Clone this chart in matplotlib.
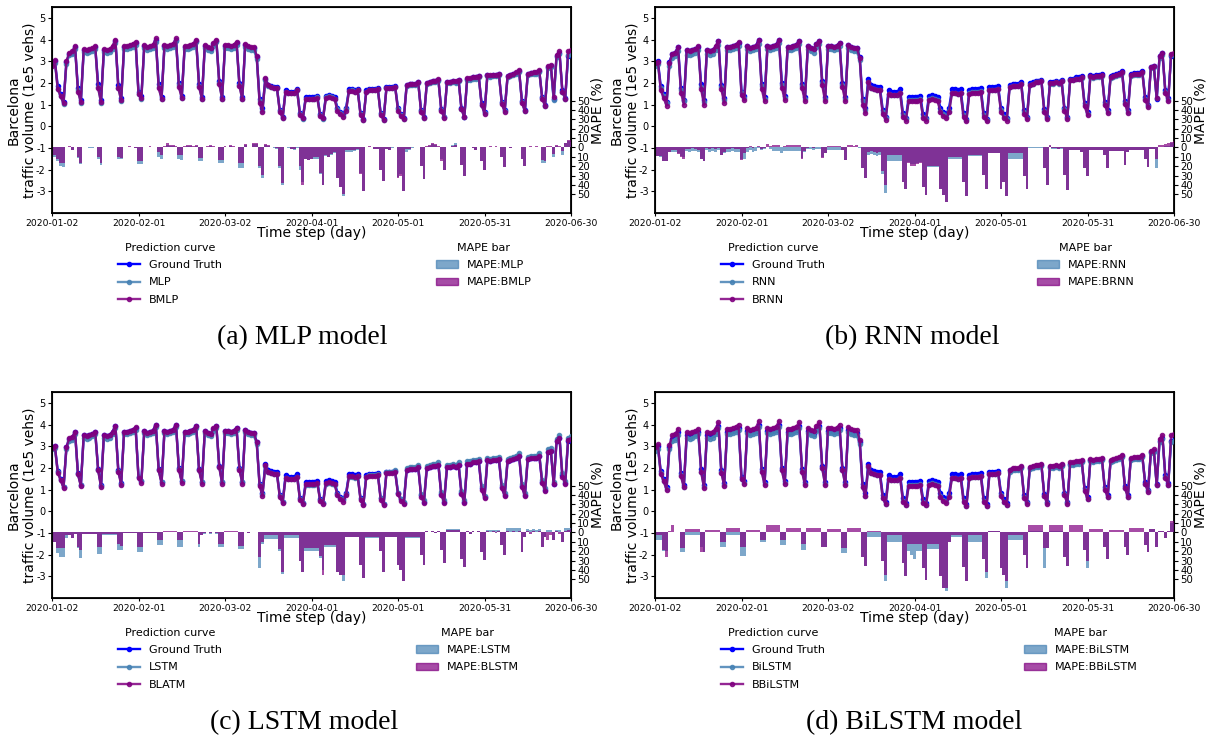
import matplotlib
matplotlib.use('Agg')
import matplotlib.pyplot as plt
import matplotlib.dates as mdates
from matplotlib.lines import Line2D
from matplotlib.patches import Patch
import pandas as pd

plt.rcParams['font.family'] = ['DejaVu Sans']
plt.rcParams['axes.unicode_minus'] = False

DATES = pd.date_range('2020-01-02', '2020-06-30', freq='D')
TICK_DATES = ['2020-01-02', '2020-02-01', '2020-03-02', '2020-04-01',
              '2020-05-01', '2020-05-31', '2020-06-30']
YTICKS = [-3, -2, -1, 0, 1, 2, 3, 4, 5]
MAPE_TICKS = [-50, -40, -30, -20, -10, 0, 10, 20, 30, 40, 50]

GROUND_TRUTH = [
    2.95, 3.00, 1.85, 1.50,
    1.12, 2.95, 3.35, 3.40, 3.65, 1.75, 1.22,
    3.50, 3.45, 3.50, 3.55, 3.65, 1.95, 1.20,
    3.50, 3.45, 3.50, 3.65, 3.95, 1.90, 1.30,
    3.65, 3.65, 3.70, 3.75, 3.85, 1.60, 1.40,
    3.70, 3.60, 3.65, 3.70, 4.00, 1.95, 1.35,
    3.70, 3.65, 3.70, 3.75, 4.00, 2.00, 1.40,
    3.65, 3.65, 3.70, 3.75, 3.95, 1.95, 1.35,
    3.70, 3.60, 3.55, 3.80, 3.95, 2.10, 1.35,
    3.70, 3.70, 3.65, 3.70, 3.85, 2.00, 1.35,
    3.75, 3.65, 3.60, 3.60, 3.20, 1.25, 0.85,
    2.20, 1.90, 1.85, 1.80, 1.80, 0.75, 0.45,
    1.65, 1.60, 1.60, 1.60, 1.70, 0.60, 0.40,
    1.35, 1.35, 1.35, 1.35, 1.40, 0.55, 0.40,
    1.40, 1.45, 1.40, 1.35, 0.85, 0.65, 0.55,
    0.85, 1.70, 1.70, 1.65, 1.70, 0.60, 0.35,
    1.65, 1.70, 1.70, 1.70, 1.75, 0.60, 0.35,
    1.80, 1.80, 1.80, 1.85, 0.85, 0.55, 0.40,
    1.90, 1.95, 1.95, 1.95, 2.05, 0.75, 0.45,
    2.00, 2.05, 2.10, 2.10, 2.15, 0.80, 0.45,
    2.05, 2.05, 2.10, 2.05, 2.15, 0.85, 0.45,
    2.20, 2.20, 2.25, 2.25, 2.30, 1.05, 0.65,
    2.35, 2.30, 2.35, 2.35, 2.40, 1.10, 0.75,
    2.30, 2.35, 2.40, 2.45, 2.55, 1.15, 0.75,
    2.40, 2.45, 2.45, 2.45, 2.55, 1.35, 1.00,
    2.75, 2.80, 1.25, 3.25, 3.40, 1.65, 1.30,
    3.25, 3.30]

# ---------------- (a) MLP ----------------
PRED_MLP = [
    2.85, 2.92, 1.72, 1.38,
    1.02, 2.88, 3.28, 3.33, 3.55, 1.65, 1.08,
    3.42, 3.38, 3.42, 3.47, 3.57, 1.80, 1.08,
    3.42, 3.37, 3.42, 3.57, 3.85, 1.78, 1.18,
    3.57, 3.57, 3.62, 3.67, 3.77, 1.50, 1.28,
    3.62, 3.52, 3.57, 3.62, 3.90, 1.82, 1.25,
    3.62, 3.57, 3.62, 3.67, 3.92, 1.88, 1.30,
    3.57, 3.57, 3.62, 3.67, 3.87, 1.85, 1.25,
    3.62, 3.52, 3.47, 3.72, 3.87, 1.98, 1.25,
    3.62, 3.62, 3.57, 3.62, 3.77, 1.88, 1.25,
    3.67, 3.57, 3.52, 3.52, 3.12, 1.15, 0.72,
    2.15, 1.85, 1.80, 1.75, 1.75, 0.70, 0.40,
    1.60, 1.55, 1.55, 1.55, 1.65, 0.55, 0.35,
    1.28, 1.28, 1.28, 1.28, 1.33, 0.50, 0.35,
    1.33, 1.38, 1.33, 1.28, 0.78, 0.60, 0.48,
    0.78, 1.63, 1.65, 1.60, 1.65, 0.55, 0.30,
    1.60, 1.65, 1.65, 1.65, 1.70, 0.55, 0.30,
    1.75, 1.75, 1.75, 1.80, 0.78, 0.50, 0.35,
    1.85, 1.90, 1.90, 1.90, 2.00, 0.70, 0.40,
    1.95, 2.00, 2.05, 2.05, 2.10, 0.75, 0.42,
    2.00, 2.00, 2.05, 2.00, 2.10, 0.80, 0.42,
    2.15, 2.15, 2.20, 2.20, 2.25, 1.00, 0.60,
    2.30, 2.25, 2.30, 2.30, 2.35, 1.05, 0.70,
    2.25, 2.30, 2.35, 2.40, 2.50, 1.10, 0.70,
    2.35, 2.40, 2.40, 2.40, 2.50, 1.30, 0.95,
    2.70, 2.75, 1.20, 3.20, 3.35, 1.60, 1.25,
    3.30, 3.35]
PRED_BMLP = [
    2.80, 3.05, 1.70, 1.40,
    1.05, 3.00, 3.40, 3.45, 3.70, 1.60, 1.12,
    3.55, 3.50, 3.55, 3.60, 3.70, 1.75, 1.12,
    3.55, 3.50, 3.55, 3.70, 4.00, 1.75, 1.20,
    3.70, 3.70, 3.75, 3.80, 3.90, 1.50, 1.30,
    3.75, 3.65, 3.70, 3.75, 4.05, 1.75, 1.28,
    3.75, 3.70, 3.75, 3.80, 4.05, 1.80, 1.32,
    3.70, 3.70, 3.75, 3.80, 4.00, 1.80, 1.28,
    3.75, 3.65, 3.60, 3.85, 4.00, 1.95, 1.28,
    3.75, 3.75, 3.70, 3.75, 3.90, 1.85, 1.25,
    3.80, 3.70, 3.65, 3.65, 3.25, 1.05, 0.68,
    2.22, 1.88, 1.82, 1.78, 1.78, 0.68, 0.38,
    1.60, 1.55, 1.55, 1.55, 1.65, 0.52, 0.36,
    1.25, 1.25, 1.25, 1.27, 1.30, 0.48, 0.36,
    1.30, 1.33, 1.30, 1.25, 0.70, 0.55, 0.45,
    0.72, 1.62, 1.62, 1.58, 1.65, 0.52, 0.30,
    1.60, 1.65, 1.65, 1.65, 1.72, 0.52, 0.30,
    1.75, 1.75, 1.77, 1.82, 0.72, 0.48, 0.32,
    1.88, 1.93, 1.93, 1.95, 2.05, 0.65, 0.40,
    2.00, 2.05, 2.10, 2.10, 2.18, 0.72, 0.40,
    2.05, 2.05, 2.10, 2.08, 2.15, 0.78, 0.42,
    2.22, 2.22, 2.27, 2.28, 2.32, 0.98, 0.58,
    2.38, 2.35, 2.38, 2.38, 2.42, 1.02, 0.68,
    2.33, 2.38, 2.42, 2.48, 2.58, 1.08, 0.70,
    2.42, 2.47, 2.48, 2.48, 2.58, 1.25, 0.95,
    2.78, 2.82, 1.35, 3.30, 3.45, 1.60, 1.28,
    3.45, 3.50]
MAPE_MLP = [
    -4, -10, -14, -20,
    -21, 1, 1, -3, 1, -11, -18,
    0, 0, -1, -1, 0, -12, -19,
    0, 0, 0, 0, 0, -12, -12,
    1, 1, 1, 0, -1, -18, -18,
    0, 0, 1, 0, 0, -10, -12,
    1, 3, 2, 2, 1, -12, -13,
    1, 2, 2, 1, 2, -14, -14,
    0, 1, 2, 1, 0, -17, -17,
    1, 0, 2, 1, 0, -22, -22,
    3, 0, 0, 4, 4, -22, -33,
    3, 2, 0, -1, -2, -22, -40,
    0, -1, -2, -3, -1, -24, -37,
    -12, -13, -12, -12, -12, -28, -40,
    -9, -10, -8, -6, -33, -42, -52,
    -5, -5, -5, -4, -3, -27, -46,
    1, 1, 0, -2, -2, -24, -36,
    -2, -3, -1, 0, -32, -28, -47,
    -5, -3, -1, 0, 0, -20, -34,
    1, 2, 4, 3, 1, -12, -24,
    1, 0, 3, 5, 0, -19, -31,
    1, 0, -1, -3, 1, -15, -24,
    1, 1, 1, 1, 1, -10, -21,
    0, -1, 0, 0, 1, -12, -20,
    1, 1, 1, 1, 1, -17, -17,
    1, 1, -10, 2, 1, -8, 5,
    7, 6]
MAPE_BMLP = [
    -2, -8, -12, -17,
    -17, 1, 2, -3, 1, -10, -17,
    1, 1, 0, 0, 1, -10, -17,
    0, 0, 1, 0, 0, -10, -11,
    1, 1, 2, 0, -1, -15, -15,
    1, 1, 2, 1, 1, -5, -8,
    2, 5, 3, 3, 2, -8, -8,
    2, 3, 3, 2, 3, -11, -11,
    1, 2, 3, 2, 1, -13, -13,
    2, 1, 3, 2, 1, -17, -17,
    4, 1, 1, 5, 5, -20, -29,
    4, 3, 0, 0, -1, -20, -38,
    1, 0, -2, -2, 0, -20, -40,
    -12, -13, -12, -10, -10, -27, -40,
    -8, -10, -7, -5, -33, -42, -50,
    -3, -3, -3, -3, -2, -28, -46,
    1, 2, 0, -2, -2, -24, -36,
    -2, -3, 0, 0, -33, -30, -47,
    -2, -2, 0, 0, 0, -20, -34,
    2, 3, 5, 4, 2, -14, -24,
    1, 0, 2, 3, 0, -19, -31,
    1, 0, -1, -3, 1, -14, -24,
    1, 2, 1, 2, 1, -10, -21,
    1, -1, 1, 0, 1, -12, -20,
    1, 2, 1, 2, 1, -13, -15,
    2, 2, -7, 3, 2, -4, 5,
    8, 8]

# ---------------- (b) RNN ----------------
PRED_RNN = [
    2.80, 2.85, 1.75, 1.40,
    1.05, 2.80, 3.15, 3.25, 3.45, 1.65, 1.15,
    3.30, 3.30, 3.35, 3.40, 3.50, 1.80, 1.12,
    3.35, 3.30, 3.35, 3.50, 3.75, 1.80, 1.22,
    3.50, 3.50, 3.55, 3.60, 3.70, 1.55, 1.32,
    3.55, 3.45, 3.50, 3.55, 3.80, 1.85, 1.28,
    3.55, 3.50, 3.55, 3.60, 3.85, 1.90, 1.32,
    3.50, 3.50, 3.55, 3.60, 3.80, 1.85, 1.28,
    3.55, 3.45, 3.40, 3.65, 3.80, 2.00, 1.28,
    3.55, 3.55, 3.50, 3.55, 3.70, 1.90, 1.28,
    3.60, 3.50, 3.45, 3.45, 3.05, 1.15, 0.75,
    2.05, 1.75, 1.70, 1.65, 1.65, 0.65, 0.38,
    1.50, 1.45, 1.45, 1.45, 1.55, 0.50, 0.32,
    1.20, 1.20, 1.20, 1.20, 1.25, 0.45, 0.32,
    1.25, 1.30, 1.25, 1.20, 0.72, 0.55, 0.45,
    0.72, 1.55, 1.55, 1.50, 1.55, 0.50, 0.28,
    1.52, 1.57, 1.57, 1.57, 1.62, 0.50, 0.28,
    1.68, 1.68, 1.68, 1.73, 0.75, 0.45, 0.32,
    1.80, 1.85, 1.85, 1.85, 1.95, 0.65, 0.38,
    1.92, 1.97, 2.02, 2.02, 2.07, 0.72, 0.40,
    1.97, 1.97, 2.02, 1.97, 2.07, 0.78, 0.40,
    2.12, 2.12, 2.17, 2.17, 2.22, 0.98, 0.58,
    2.27, 2.22, 2.27, 2.27, 2.32, 1.02, 0.68,
    2.22, 2.27, 2.32, 2.37, 2.47, 1.08, 0.68,
    2.32, 2.37, 2.37, 2.37, 2.47, 1.28, 0.92,
    2.67, 2.72, 1.30, 3.15, 3.30, 1.58, 1.22,
    3.30, 3.35]
PRED_BRNN = [
    2.90, 2.98, 1.65, 1.30,
    0.95, 2.90, 3.35, 3.40, 3.65, 1.55, 1.00,
    3.50, 3.45, 3.50, 3.55, 3.68, 1.70, 0.98,
    3.50, 3.45, 3.50, 3.68, 3.95, 1.70, 1.08,
    3.65, 3.65, 3.70, 3.75, 3.88, 1.42, 1.20,
    3.70, 3.60, 3.65, 3.70, 4.00, 1.72, 1.15,
    3.70, 3.65, 3.70, 3.75, 4.00, 1.78, 1.20,
    3.65, 3.65, 3.70, 3.75, 3.95, 1.75, 1.15,
    3.70, 3.60, 3.55, 3.80, 3.95, 1.88, 1.15,
    3.70, 3.70, 3.65, 3.70, 3.85, 1.80, 1.15,
    3.75, 3.65, 3.60, 3.60, 3.15, 1.00, 0.60,
    2.05, 1.75, 1.70, 1.65, 1.65, 0.55, 0.30,
    1.50, 1.45, 1.45, 1.45, 1.52, 0.42, 0.25,
    1.18, 1.18, 1.18, 1.18, 1.22, 0.40, 0.25,
    1.22, 1.25, 1.22, 1.18, 0.65, 0.48, 0.38,
    0.65, 1.52, 1.52, 1.48, 1.52, 0.42, 0.22,
    1.50, 1.55, 1.55, 1.55, 1.60, 0.42, 0.22,
    1.65, 1.65, 1.65, 1.70, 0.68, 0.40, 0.25,
    1.80, 1.85, 1.85, 1.85, 1.95, 0.58, 0.32,
    1.92, 1.97, 2.02, 2.02, 2.08, 0.65, 0.32,
    1.98, 1.98, 2.03, 1.98, 2.08, 0.70, 0.35,
    2.15, 2.15, 2.20, 2.20, 2.25, 0.92, 0.52,
    2.30, 2.25, 2.30, 2.30, 2.35, 0.98, 0.62,
    2.25, 2.30, 2.35, 2.40, 2.50, 1.02, 0.62,
    2.35, 2.40, 2.40, 2.40, 2.50, 1.22, 0.88,
    2.72, 2.78, 1.30, 3.25, 3.40, 1.52, 1.15,
    3.35, 3.40]
MAPE_RNN = [
    -5, -9, -10, -15,
    -14, -5, -5, -5, -6, -9, -10,
    -4, -5, -4, -4, -5, -12, -14,
    -3, -5, -4, -5, -3, -8, -6,
    -5, -5, -4, -5, -5, -12, -12,
    -5, -3, -5, -4, -1, -3, -2,
    1, -2, -4, -4, -4, -6, -4,
    -4, -4, -4, -4, -4, -11, -5,
    -2, -2, -3, -2, -2, -10, -6,
    -3, -3, -3, -3, -3, -3, -13,
    1, 1, 0, 1, -1, -22, -33,
    -8, -7, -8, -9, -8, -28, -49,
    -14, -14, -14, -14, -14, -37, -44,
    -16, -18, -18, -17, -16, -42, -51,
    -21, -21, -21, -21, -44, -51, -58,
    -12, -12, -12, -12, -12, -37, -52,
    -9, -9, -9, -9, -9, -29, -44,
    -6, -6, -6, -6, -44, -37, -52,
    -12, -12, -12, -12, -12, -31, -44,
    -1, -1, -1, -1, -1, -22, -40,
    2, -2, -2, -2, -2, -29, -45,
    -3, -3, -3, -3, -5, -22, -31,
    -3, -3, -3, -3, -3, -8, -22,
    -4, -4, -4, -4, -4, -19, -5,
    -3, -3, -3, -3, -3, -12, -21,
    -2, -2, -22, 1, 1, 2, 2,
    5, 5]
MAPE_BRNN = [
    -3, -9, -9, -15,
    -15, -5, -3, -3, -7, -10, -12,
    -2, -2, -1, -2, -3, -12, -15,
    -1, -2, -1, -2, -1, -8, -5,
    -2, -2, -1, -2, -2, -13, -6,
    -1, 2, -1, 1, 2, -2, -1,
    4, 2, 3, 3, 3, 1, 2,
    3, 3, 3, 3, 3, -12, -4,
    -1, 1, -1, 1, 0, -11, -6,
    2, 2, 2, 2, 2, -3, -13,
    3, 3, 2, 3, 1, -22, -33,
    -5, -4, -5, -6, -5, -25, -40,
    -8, -8, -8, -8, -8, -37, -44,
    -17, -20, -20, -18, -17, -42, -51,
    -20, -20, -20, -20, -44, -51, -58,
    -10, -10, -10, -10, -10, -37, -52,
    -8, -8, -8, -8, -8, -29, -44,
    -6, -6, -6, -6, -44, -37, -52,
    -6, -6, -6, -6, -6, -31, -44,
    1, 1, 0, 1, 1, -22, -40,
    3, -1, -1, -2, -1, -29, -45,
    -3, -3, -3, -3, -5, -22, -31,
    -3, -3, -3, -3, -3, -8, -22,
    -4, -4, -4, -4, -4, -19, -5,
    -3, -3, -3, -3, -3, -12, -21,
    -2, -2, -12, 3, 3, 4, 5,
    6, 7]

# ---------------- (c) LSTM ----------------
PRED_LSTM = [
    2.85, 2.90, 1.80, 1.45,
    1.10, 2.85, 3.25, 3.30, 3.55, 1.72, 1.20,
    3.40, 3.35, 3.40, 3.45, 3.55, 1.90, 1.18,
    3.40, 3.35, 3.40, 3.55, 3.85, 1.85, 1.28,
    3.55, 3.55, 3.60, 3.65, 3.75, 1.58, 1.38,
    3.60, 3.50, 3.55, 3.60, 3.90, 1.90, 1.33,
    3.60, 3.55, 3.60, 3.65, 3.90, 1.95, 1.38,
    3.55, 3.55, 3.60, 3.65, 3.85, 1.92, 1.33,
    3.60, 3.50, 3.45, 3.70, 3.85, 2.05, 1.33,
    3.60, 3.60, 3.55, 3.60, 3.75, 1.95, 1.33,
    3.65, 3.55, 3.50, 3.50, 3.10, 1.20, 0.80,
    2.10, 1.80, 1.75, 1.70, 1.70, 0.72, 0.42,
    1.52, 1.48, 1.48, 1.48, 1.58, 0.55, 0.38,
    1.22, 1.22, 1.22, 1.22, 1.28, 0.52, 0.38,
    1.28, 1.32, 1.28, 1.22, 0.80, 0.62, 0.52,
    0.80, 1.60, 1.60, 1.55, 1.62, 0.58, 0.35,
    1.60, 1.65, 1.65, 1.65, 1.72, 0.60, 0.35,
    1.80, 1.82, 1.82, 1.88, 0.85, 0.58, 0.42,
    1.98, 2.03, 2.03, 2.03, 2.13, 0.80, 0.50,
    2.10, 2.15, 2.20, 2.20, 2.25, 0.88, 0.52,
    2.15, 2.15, 2.20, 2.15, 2.25, 0.95, 0.52,
    2.32, 2.32, 2.37, 2.37, 2.42, 1.15, 0.72,
    2.47, 2.42, 2.47, 2.47, 2.52, 1.20, 0.82,
    2.42, 2.47, 2.52, 2.57, 2.67, 1.25, 0.82,
    2.52, 2.57, 2.57, 2.57, 2.67, 1.45, 1.08,
    2.87, 2.92, 1.35, 3.35, 3.50, 1.75, 1.38,
    3.40, 3.45]
PRED_BLSTM = [
    2.90, 3.00, 1.78, 1.42,
    1.08, 2.95, 3.38, 3.42, 3.67, 1.70, 1.15,
    3.52, 3.47, 3.52, 3.57, 3.67, 1.88, 1.12,
    3.52, 3.47, 3.52, 3.67, 3.95, 1.82, 1.22,
    3.67, 3.67, 3.72, 3.77, 3.87, 1.52, 1.32,
    3.72, 3.62, 3.67, 3.72, 4.00, 1.88, 1.28,
    3.72, 3.67, 3.72, 3.77, 4.00, 1.92, 1.32,
    3.67, 3.67, 3.72, 3.77, 3.95, 1.88, 1.28,
    3.72, 3.62, 3.57, 3.82, 3.95, 2.02, 1.28,
    3.72, 3.72, 3.67, 3.72, 3.85, 1.92, 1.28,
    3.75, 3.65, 3.60, 3.60, 3.18, 1.15, 0.72,
    2.12, 1.82, 1.78, 1.72, 1.72, 0.65, 0.38,
    1.55, 1.50, 1.50, 1.50, 1.60, 0.52, 0.33,
    1.25, 1.25, 1.25, 1.25, 1.30, 0.48, 0.33,
    1.30, 1.35, 1.30, 1.25, 0.75, 0.55, 0.45,
    0.75, 1.62, 1.62, 1.58, 1.62, 0.52, 0.28,
    1.58, 1.63, 1.63, 1.63, 1.68, 0.52, 0.28,
    1.75, 1.75, 1.75, 1.80, 0.78, 0.48, 0.33,
    1.88, 1.93, 1.93, 1.93, 2.03, 0.68, 0.40,
    2.00, 2.05, 2.10, 2.10, 2.15, 0.75, 0.40,
    2.05, 2.05, 2.10, 2.05, 2.15, 0.80, 0.40,
    2.20, 2.20, 2.25, 2.25, 2.30, 1.00, 0.60,
    2.35, 2.30, 2.35, 2.35, 2.40, 1.05, 0.70,
    2.30, 2.35, 2.40, 2.45, 2.55, 1.10, 0.70,
    2.40, 2.45, 2.45, 2.45, 2.55, 1.30, 0.95,
    2.75, 2.80, 1.25, 3.25, 3.40, 1.60, 1.25,
    3.30, 3.35]
MAPE_LSTM = [
    -10, -10, -22, -26,
    -26, -6, -3, -6, -2, -17, -27,
    -2, -2, -2, -2, -2, -23, -23,
    -3, -3, -3, -3, -3, -19, -19,
    -1, -1, -1, -1, -1, -21, -21,
    -1, -1, -1, -1, -1, -13, -13,
    1, 1, 1, 1, 1, -16, -16,
    1, 1, 1, 1, 1, -16, -3,
    -2, 0, -2, 0, -2, -16, -16,
    0, 0, 0, 0, 0, -18, -18,
    1, -1, 1, 1, 1, -38, -12,
    -7, -7, -7, -7, -7, -20, -44,
    -6, -6, -6, -6, -6, -31, -42,
    -20, -20, -20, -20, -20, -27, -40,
    -16, -16, -16, -16, -42, -45, -52,
    -5, -5, -5, -5, -5, -35, -49,
    -6, -6, -6, -6, -6, -20, -42,
    -5, -5, -5, -5, -35, -40, -52,
    -6, -6, -6, -6, -6, -24, -35,
    2, 1, 2, -1, 2, -19, -33,
    4, 4, 4, 4, 4, -28, -37,
    2, -2, 2, 1, 2, -21, -29,
    3, 3, 3, 3, 3, -13, -24,
    5, 5, 5, 5, 5, -21, -5,
    4, 3, 4, 3, 4, -15, -5,
    3, 3, -8, 3, 3, -10, 5,
    5, 5]
MAPE_BLSTM = [
    -10, -10, -17, -17,
    -17, -3, -3, -6, -2, -15, -19,
    -2, -2, -2, -2, -2, -15, -15,
    -2, -2, -2, -2, -2, -12, -14,
    -1, -1, -1, -1, -1, -15, -15,
    -1, -1, -1, -1, -1, -8, -8,
    2, 2, 2, 2, 2, -8, -8,
    2, 2, 2, 2, 2, -12, -3,
    -1, 1, -1, 1, -1, -12, -12,
    2, 2, 2, 2, 2, -14, -14,
    1, -1, 1, 1, 1, -26, -10,
    -3, -3, -3, -3, -3, -18, -42,
    -3, -3, -3, -3, -3, -31, -42,
    -17, -17, -17, -17, -17, -25, -45,
    -13, -13, -13, -13, -42, -45, -45,
    -5, -5, -5, -5, -5, -35, -49,
    -5, -5, -5, -5, -5, -20, -42,
    -5, -5, -5, -5, -35, -40, -52,
    -5, -5, -5, -5, -5, -24, -35,
    2, 1, 2, -1, 2, -19, -33,
    3, 3, 3, 3, 3, -28, -37,
    2, -2, 2, 1, 2, -21, -29,
    2, 1, 2, -1, 2, -13, -24,
    2, 1, 2, 1, 2, -21, -5,
    2, -2, 2, 1, 2, -15, -5,
    -8, -3, -8, 2, -2, -10, 2,
    3, 4]

# ---------------- (d) BiLSTM ----------------
PRED_BILSTM = [
    2.80, 2.88, 1.75, 1.40,
    1.02, 2.85, 3.25, 3.30, 3.52, 1.65, 1.12,
    3.40, 3.35, 3.40, 3.45, 3.55, 1.82, 1.10,
    3.40, 3.35, 3.40, 3.55, 3.82, 1.80, 1.20,
    3.55, 3.55, 3.60, 3.65, 3.75, 1.50, 1.30,
    3.60, 3.50, 3.55, 3.60, 3.88, 1.85, 1.25,
    3.60, 3.55, 3.60, 3.65, 3.90, 1.90, 1.30,
    3.55, 3.55, 3.60, 3.65, 3.85, 1.85, 1.25,
    3.60, 3.50, 3.45, 3.70, 3.85, 1.98, 1.25,
    3.60, 3.60, 3.55, 3.60, 3.75, 1.90, 1.25,
    3.65, 3.55, 3.50, 3.50, 3.10, 1.12, 0.72,
    2.05, 1.75, 1.70, 1.65, 1.65, 0.62, 0.35,
    1.50, 1.45, 1.45, 1.45, 1.55, 0.48, 0.30,
    1.20, 1.20, 1.20, 1.20, 1.25, 0.45, 0.30,
    1.25, 1.30, 1.25, 1.20, 0.70, 0.52, 0.42,
    0.70, 1.55, 1.55, 1.50, 1.55, 0.48, 0.25,
    1.52, 1.57, 1.57, 1.57, 1.62, 0.48, 0.25,
    1.70, 1.70, 1.70, 1.75, 0.75, 0.45, 0.30,
    1.83, 1.88, 1.88, 1.88, 1.98, 0.65, 0.38,
    1.95, 2.00, 2.05, 2.05, 2.10, 0.72, 0.38,
    2.00, 2.00, 2.05, 2.00, 2.10, 0.78, 0.38,
    2.15, 2.15, 2.20, 2.20, 2.25, 0.98, 0.58,
    2.30, 2.25, 2.30, 2.30, 2.35, 1.02, 0.68,
    2.25, 2.30, 2.35, 2.40, 2.50, 1.08, 0.68,
    2.35, 2.40, 2.40, 2.40, 2.50, 1.28, 0.92,
    2.70, 2.75, 1.22, 3.20, 3.35, 1.58, 1.22,
    3.20, 3.25]
PRED_BBILSTM = [
    2.95, 3.10, 1.72, 1.38,
    1.00, 3.05, 3.50, 3.55, 3.80, 1.62, 1.10,
    3.65, 3.60, 3.65, 3.70, 3.80, 1.82, 1.08,
    3.65, 3.60, 3.65, 3.80, 4.10, 1.78, 1.18,
    3.80, 3.80, 3.85, 3.90, 4.00, 1.48, 1.28,
    3.85, 3.75, 3.80, 3.85, 4.15, 1.82, 1.22,
    3.85, 3.80, 3.85, 3.90, 4.15, 1.88, 1.28,
    3.80, 3.80, 3.85, 3.90, 4.10, 1.82, 1.22,
    3.85, 3.75, 3.70, 3.95, 4.10, 1.98, 1.22,
    3.85, 3.85, 3.80, 3.85, 4.00, 1.88, 1.22,
    3.90, 3.80, 3.75, 3.75, 3.30, 1.10, 0.70,
    2.10, 1.78, 1.72, 1.68, 1.68, 0.60, 0.32,
    1.50, 1.45, 1.45, 1.45, 1.55, 0.45, 0.28,
    1.18, 1.18, 1.18, 1.18, 1.22, 0.40, 0.28,
    1.22, 1.28, 1.22, 1.18, 0.65, 0.48, 0.38,
    0.65, 1.55, 1.55, 1.50, 1.55, 0.45, 0.22,
    1.52, 1.57, 1.57, 1.57, 1.62, 0.45, 0.22,
    1.72, 1.72, 1.72, 1.78, 0.70, 0.42, 0.28,
    1.92, 1.98, 1.98, 1.98, 2.08, 0.62, 0.35,
    2.05, 2.10, 2.15, 2.15, 2.20, 0.70, 0.35,
    2.10, 2.10, 2.15, 2.10, 2.20, 0.75, 0.35,
    2.25, 2.25, 2.30, 2.30, 2.35, 0.95, 0.55,
    2.40, 2.35, 2.40, 2.40, 2.45, 1.00, 0.65,
    2.35, 2.40, 2.45, 2.50, 2.60, 1.05, 0.65,
    2.45, 2.50, 2.50, 2.50, 2.60, 1.25, 0.90,
    2.80, 2.85, 1.20, 3.35, 3.50, 1.55, 1.20,
    3.50, 3.55]
MAPE_BILSTM = [
    -3, -8, -8, -20,
    -20, 1, 1, 0, 0, -21, -21,
    -3, -3, -3, -3, -3, -15, -21,
    0, 0, 0, 0, 0, -15, -15,
    -3, -3, -3, -3, -3, -25, -25,
    0, 0, 0, 0, 0, -10, -10,
    1, 1, 1, 1, 1, -13, -13,
    0, 0, 0, 0, 0, -19, -19,
    0, 0, 0, 0, 0, -16, -16,
    0, 0, 0, 0, 0, -22, -22,
    1, 1, 1, 1, 1, -26, -36,
    -5, -5, -5, -5, -5, -31, -52,
    -10, -10, -10, -10, -10, -33, -47,
    -20, -24, -28, -20, -20, -38, -51,
    -18, -18, -18, -18, -47, -59, -63,
    -10, -5, -5, -5, -5, -37, -52,
    -10, -10, -10, -10, -10, -28, -49,
    2, 2, 2, 2, -38, -45, -59,
    -8, -8, -8, -8, -8, -24, -38,
    2, 2, 2, 2, 2, -38, -17,
    2, 2, 2, 2, 2, -26, -36,
    1, 1, 1, 1, 1, -19, -38,
    0, 0, 0, 0, 0, -15, -28,
    0, 0, 0, 0, 0, -15, -24,
    0, 0, 0, 0, 0, -13, -21,
    4, 4, -15, 2, 2, -6, 2,
    10, 10]
MAPE_BBILSTM = [
    -3, -3, -3, -19,
    -26, 2, 8, 1, 1, -17, -17,
    4, 4, 4, 4, 4, -21, -21,
    3, 3, 3, 3, 3, -10, -10,
    5, 5, 5, 5, 5, -15, -15,
    3, 3, 3, 3, 3, -8, -8,
    8, 8, 8, 8, 8, -8, -8,
    5, 5, 5, 5, 5, -12, -12,
    5, 5, 5, 5, 5, -15, -15,
    4, 4, 4, 4, 4, -17, -17,
    5, 5, 5, 5, 5, -26, -36,
    2, 2, 2, 2, 2, -31, -45,
    -3, -3, -3, -3, -3, -33, -47,
    -12, -12, -12, -12, -12, -38, -51,
    -12, -12, -12, -12, -47, -59, -59,
    -10, -3, -3, -3, -3, -37, -52,
    -3, -3, -3, -3, -3, -28, -42,
    2, 2, 2, 2, -38, -45, -52,
    -3, -3, -3, -3, -3, -24, -38,
    8, 8, 8, 8, 8, -17, -17,
    8, 8, 8, 8, 8, -26, -36,
    8, 8, 8, 8, 8, -19, -31,
    4, 4, 4, 4, 4, -15, -28,
    3, 3, 3, 3, 3, -15, -24,
    5, 5, 5, 5, 5, -13, -21,
    4, 4, -15, 2, 2, -6, 2,
    12, 12]

PANELS = [
    dict(model='MLP', bmodel='BMLP', pred=PRED_MLP, bpred=PRED_BMLP,
         mape=MAPE_MLP, bmape=MAPE_BMLP, caption='(a) MLP model',
         row=0, col=0, leg2x=0.832, capx=0.482),
    dict(model='RNN', bmodel='BRNN', pred=PRED_RNN, bpred=PRED_BRNN,
         mape=MAPE_RNN, bmape=MAPE_BRNN, caption='(b) RNN model',
         row=0, col=1, leg2x=0.83, capx=0.495),
    dict(model='LSTM', bmodel='BLATM', bbar='BLSTM', pred=PRED_LSTM, bpred=PRED_BLSTM,
         mape=MAPE_LSTM, bmape=MAPE_BLSTM, caption='(c) LSTM model',
         row=1, col=0, leg2x=0.80, capx=0.486),
    dict(model='BiLSTM', bmodel='BBiLSTM', pred=PRED_BILSTM, bpred=PRED_BBILSTM,
         mape=MAPE_BILSTM, bmape=MAPE_BBILSTM, caption='(d) BiLSTM model',
         row=1, col=1, leg2x=0.82, capx=0.50),
]

W, H = 1208, 740
fig = plt.figure(figsize=(W / 100, H / 100), dpi=100)

GT_C = '#0000ff'
M_C = 'steelblue'
B_C = 'purple'

AX_LEFT = [52, 655]
AX_TOP = [7, 392]
AX_W, AX_H = 519, 206

for p in PANELS:
    left = AX_LEFT[p['col']]
    top = AX_TOP[p['row']]
    ax = fig.add_axes([left / W, 1 - (top + AX_H) / H, AX_W / W, AX_H / H])
    ax.plot(DATES, GROUND_TRUTH, color=GT_C, lw=1.7, marker='o', ms=3, label='Ground Truth', zorder=3)
    ax.plot(DATES, p['pred'], color=M_C, alpha=0.85, lw=1.7, marker='o', ms=3, label=p['model'], zorder=4)
    ax.plot(DATES, p['bpred'], color=B_C, alpha=0.85, lw=1.7, marker='o', ms=3, label=p['bmodel'], zorder=5)
    ax.set_ylim(-4, 5.5)
    ax.set_yticks(YTICKS)
    ax.set_yticklabels([str(v) for v in YTICKS])
    ax.set_xlim(DATES[0], DATES[-1])
    ax.set_xticks(pd.to_datetime(TICK_DATES))
    ax.xaxis.set_major_formatter(mdates.DateFormatter('%Y-%m-%d'))
    ax.tick_params(axis='x', labelsize=6.6, length=2.5, pad=1.5)
    ax.tick_params(axis='y', labelsize=7, length=3, pad=1.5)
    ax.set_xlabel('Time step (day)', fontsize=10, labelpad=-1)
    ax.set_ylabel('Barcelona\ntraffic volume (1e5 vehs)', fontsize=10)
    ax.yaxis.set_label_coords(-0.030, 0.5)
    for s in ax.spines.values():
        s.set_linewidth(1.3)

    ax2 = ax.twinx()
    ax2.bar(DATES, p['mape'], width=1.0, color=M_C, alpha=0.7, label='MAPE:' + p['model'])
    ax2.bar(DATES, p['bmape'], width=1.0, color=B_C, alpha=0.7,
            label='MAPE:' + p.get('bbar', p['bmodel']))
    ax2.set_ylim(-70, 150)
    ax2.set_yticks(MAPE_TICKS)
    ax2.set_yticklabels([str(abs(v)) for v in MAPE_TICKS])
    ax2.tick_params(axis='y', labelsize=7.3, length=3, pad=1.5)
    ax2.set_ylabel('MAPE (%)', fontsize=10, labelpad=0)
    ax2.set_xlim(DATES[0], DATES[-1])

    handles1 = [
        Line2D([], [], color=GT_C, lw=1.7, marker='o', ms=3),
        Line2D([], [], color=M_C, alpha=0.85, lw=1.7, marker='o', ms=3),
        Line2D([], [], color=B_C, alpha=0.85, lw=1.7, marker='o', ms=3),
    ]
    labels1 = ['Ground Truth', p['model'], p['bmodel']]
    fig.legend(handles1, labels1, title='Prediction curve', loc='upper center',
               bbox_to_anchor=((left + 0.227 * AX_W) / W, 1 - (top + AX_H + 20) / H),
               frameon=False, fontsize=8, title_fontsize=8, labelspacing=0.65)
    handles2 = [Patch(color=M_C, alpha=0.7), Patch(color=B_C, alpha=0.7)]
    labels2 = ['MAPE:' + p['model'], 'MAPE:' + p.get('bbar', p['bmodel'])]
    fig.legend(handles2, labels2, title='MAPE bar', loc='upper center',
               bbox_to_anchor=((left + p['leg2x'] * AX_W) / W, 1 - (top + AX_H + 20) / H),
               frameon=False, fontsize=8, title_fontsize=8, labelspacing=0.65)

    cx = left + p['capx'] * AX_W
    cy = top + 331
    fig.text(cx / W, 1 - cy / H, p['caption'], ha='center', va='center',
             fontsize=20, family='Liberation Serif')

fig.savefig('out.png', dpi=100)
